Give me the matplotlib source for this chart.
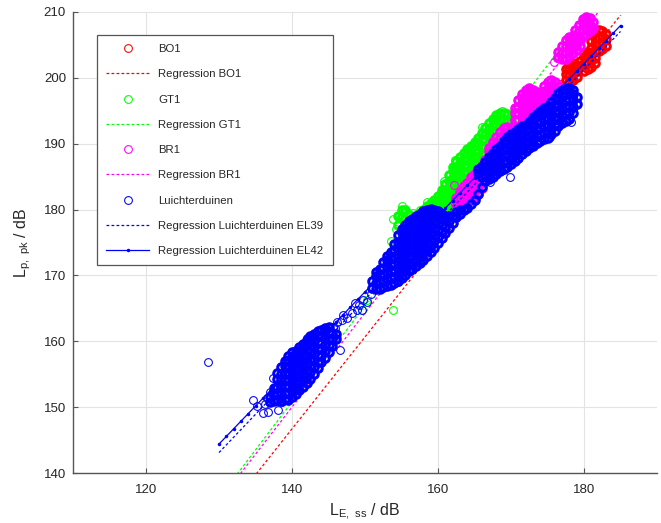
import matplotlib
matplotlib.use("Agg")
import matplotlib.pyplot as plt
import numpy as np

# ---------------- data ----------------
# Point clouds as columns: (L_E,ss, [L_p,pk values])
bo1_cols = [
    (177.5, [199.6, 200.6, 201.4]),
    (178.0, [199.4, 200.4, 201.4, 202.1]),
    (178.5, [199.7, 200.7, 201.7, 202.3]),
    (179.0, [200.1, 201.1, 202.0]),
    (179.5, [201.6, 202.6]),
    (180.0, [201.1, 202.1, 203.1, 203.7]),
    (180.5, [201.3, 202.3, 203.3, 204.0]),
    (181.0, [201.7, 202.7, 203.6, 204.6, 205.6]),
    (181.5, [202.3, 203.0, 204.1, 205.1, 206.1, 206.9]),
    (182.0, [204.1, 205.1, 206.1, 207.2]),
    (182.5, [204.4, 205.4, 206.4, 207.1]),
    (183.0, [204.9, 205.9, 206.7]),
]
bo1_extra_x = [174.0, 173.6, 176.9]
bo1_extra_y = [195.3, 194.5, 199.0]

gt1_cols = [
    (154.5, [177.6, 179.0]),
    (155.0, [176.4, 178.8, 180.0]),
    (155.5, [177.2, 178.6, 180.0]),
    (156.0, [176.8, 178.0, 179.2]),
    (156.5, [176.0, 177.2, 178.5]),
    (157.0, [176.3, 177.6, 179.0]),
    (157.5, [176.5, 177.8, 179.5]),
    (158.0, [176.8, 178.0, 179.2, 180.0]),
    (158.5, [177.0, 178.3, 179.5, 180.5]),
    (159.0, [177.3, 178.5, 179.8, 181.0]),
    (159.5, [177.6, 178.7, 179.8, 180.7, 181.5]),
    (160.0, [178.0, 179.0, 180.0, 181.0, 182.0]),
    (160.5, [178.4, 179.4, 180.4, 181.4, 182.4, 183.0]),
    (161.0, [178.8, 179.8, 180.8, 181.8, 182.8, 183.9]),
    (161.5, [179.3, 180.3, 181.3, 182.3, 183.3, 184.3, 185.2]),
    (162.0, [179.8, 180.8, 181.8, 182.8, 183.8, 184.8, 185.8, 186.5]),
    (162.5, [180.3, 181.3, 182.3, 183.3, 184.3, 185.3, 186.3, 187.3]),
    (163.0, [181.0, 182.0, 183.0, 184.0, 185.0, 186.0, 187.0, 188.0]),
    (163.5, [181.7, 182.7, 183.7, 184.7, 185.7, 186.7, 187.7, 188.6]),
    (164.0, [182.5, 183.5, 184.5, 185.5, 186.5, 187.5, 188.5, 189.2]),
    (164.5, [183.3, 184.3, 185.3, 186.3, 187.3, 188.3, 189.3, 189.7]),
    (165.0, [184.0, 185.0, 186.0, 187.0, 188.0, 189.0, 190.0, 190.3]),
    (165.5, [184.8, 185.8, 186.8, 187.8, 188.8, 189.8, 190.9]),
    (166.0, [185.6, 186.6, 187.6, 188.6, 189.6, 190.6, 191.6]),
    (166.5, [186.5, 187.5, 188.5, 189.5, 190.5, 191.5, 192.4]),
    (167.0, [187.3, 188.3, 189.3, 190.3, 191.3, 192.3, 193.1]),
    (167.5, [188.0, 189.0, 190.0, 191.0, 192.0, 193.0, 193.7]),
    (168.0, [188.8, 189.8, 190.8, 191.8, 192.8, 193.8, 194.3]),
    (168.5, [189.7, 190.7, 191.7, 192.7, 193.7, 194.6]),
    (169.0, [190.6, 191.6, 192.6, 193.6, 194.6]),
    (169.5, [191.5, 192.5, 193.5, 194.5]),
    (170.0, [192.4, 193.4]),
]
gt1_extra_x = [162.3, 164.4, 156.6, 157.5, 153.8, 154.1, 149.6, 150.3, 160.8, 158.5,
               166.0, 168.7, 154.0, 153.6, 154.2, 153.9, 155.0]
gt1_extra_y = [187.5, 189.4, 179.5, 180.0, 164.8, 172.8, 164.8, 166.3, 184.3, 181.2,
               192.5, 195.0, 174.0, 175.3, 177.0, 178.6, 180.6]

br1_cols = [
    (162.5, [180.8, 181.8]),
    (163.0, [180.6, 181.6, 182.6]),
    (163.5, [180.8, 181.8, 182.8, 183.6]),
    (164.0, [181.0, 182.0, 183.0, 184.0]),
    (164.5, [181.4, 182.4, 183.4, 184.4, 185.0]),
    (165.0, [181.8, 182.8, 183.8, 184.8, 185.4]),
    (165.5, [182.3, 183.3, 184.3, 185.3, 185.9]),
    (166.0, [183.2, 184.2, 185.2, 186.2]),
    (166.5, [185.6, 186.6, 187.6]),
    (167.0, [185.8, 186.8, 187.8, 188.8, 189.3]),
    (167.5, [186.3, 187.3, 188.3, 189.3, 190.2]),
    (168.0, [187.0, 188.0, 189.0, 190.0, 191.0]),
    (168.5, [187.8, 188.8, 189.8, 190.8, 191.8]),
    (169.0, [188.6, 189.6, 190.6, 191.6, 192.4]),
    (169.5, [189.5, 190.5, 191.5, 192.5]),
    (170.0, [190.4, 191.4, 192.3]),
    (170.5, [192.6, 193.6, 194.6, 195.4]),
    (171.0, [192.6, 193.6, 194.6, 195.6, 196.6]),
    (171.5, [193.0, 194.0, 195.0, 196.0, 197.0, 197.5]),
    (172.0, [193.5, 194.5, 195.5, 196.5, 197.5, 198.1]),
    (172.5, [194.0, 195.0, 196.0, 197.0, 198.0, 198.4]),
    (173.0, [194.6, 195.6, 196.6, 197.6, 198.2]),
    (173.5, [195.2, 196.2, 197.2, 197.8]),
    (174.0, [195.6, 196.6, 197.4]),
    (174.5, [196.0, 197.0, 198.0, 198.7]),
    (175.0, [196.3, 197.3, 198.3, 199.3]),
    (175.5, [196.8, 197.8, 198.8, 199.6]),
    (176.0, [197.3, 198.3, 199.3]),
    (176.5, [197.9, 198.7, 203.1, 203.9]),
    (177.0, [202.8, 203.8, 204.8]),
    (177.5, [202.9, 203.9, 204.9, 205.7]),
    (178.0, [203.3, 204.3, 205.3, 206.2]),
    (178.5, [203.8, 204.8, 205.8, 206.4]),
    (178.8, [206.3, 207.3]),
    (179.0, [204.3, 205.3, 206.2]),
    (179.3, [206.1, 207.1, 208.1]),
    (179.5, [204.9, 205.7]),
    (179.8, [206.3, 207.3, 208.3, 209.0]),
    (180.3, [206.6, 207.6, 208.6, 209.2]),
    (180.8, [207.1, 208.1, 209.1]),
    (181.2, [207.6, 208.5]),
]
br1_extra_x = [176.3, 175.9, 162.2]
br1_extra_y = [203.0, 202.4, 183.8]

lu_cols = [
    # lowest cloud
    (137.0, [150.8, 151.5]),
    (137.5, [150.9, 151.9, 152.9]),
    (138.0, [151.1, 152.1, 153.1, 154.2, 155.2]),
    (138.5, [151.0, 152.0, 153.0, 154.1, 155.1, 156.1]),
    (139.0, [151.2, 152.2, 153.2, 154.2, 155.2, 156.2, 157.0]),
    (139.5, [151.1, 152.1, 153.1, 154.1, 155.1, 156.1, 157.1, 157.7]),
    (140.0, [151.5, 152.5, 153.5, 154.5, 155.5, 156.5, 157.5, 158.3]),
    (140.5, [152.0, 153.0, 154.0, 155.0, 156.0, 157.0, 158.0, 158.6]),
    (141.0, [152.6, 153.6, 154.6, 155.6, 156.6, 157.6, 158.6, 159.1]),
    (141.5, [153.1, 154.1, 155.1, 156.1, 157.1, 158.1, 159.1, 159.6]),
    (142.0, [153.7, 154.7, 155.7, 156.7, 157.7, 158.7, 159.7, 160.2]),
    (142.5, [154.3, 155.3, 156.3, 157.3, 158.3, 159.3, 160.3, 160.8]),
    (143.0, [155.1, 156.1, 157.1, 158.1, 159.1, 160.1, 161.1]),
    (143.5, [155.9, 156.9, 157.9, 158.9, 159.9, 160.9, 161.5]),
    (144.0, [156.8, 157.8, 158.8, 159.8, 160.8, 161.7]),
    (144.5, [157.5, 158.5, 159.5, 160.5, 161.5, 162.0]),
    (145.0, [158.4, 159.4, 160.4, 161.4, 162.1]),
    (145.5, [159.3, 160.3, 161.3]),
    (146.0, [160.4, 161.1]),
    # middle cloud
    (151.0, [168.1, 169.2]),
    (151.5, [167.9, 168.9, 169.9, 170.5]),
    (152.0, [168.0, 169.0, 170.0, 171.0]),
    (152.5, [168.2, 169.2, 170.2, 171.2, 172.1]),
    (153.0, [168.4, 169.4, 170.4, 171.4, 172.4, 173.0]),
    (153.5, [168.6, 169.6, 170.6, 171.6, 172.6, 173.6]),
    (154.0, [168.8, 169.8, 170.8, 171.8, 172.8, 173.8, 174.8]),
    (154.5, [169.1, 170.1, 171.1, 172.1, 173.1, 174.1, 175.1, 176.1]),
    (155.0, [169.6, 170.6, 171.6, 172.6, 173.6, 174.6, 175.6, 176.6, 177.0]),
    (155.5, [170.1, 171.1, 172.1, 173.1, 174.1, 175.1, 176.1, 177.1, 177.6]),
    (156.0, [170.6, 171.6, 172.6, 173.6, 174.6, 175.6, 176.6, 177.6, 178.2]),
    (156.5, [171.0, 172.0, 173.0, 174.0, 175.0, 176.0, 177.0, 178.0, 178.6]),
    (157.0, [171.4, 172.4, 173.4, 174.4, 175.4, 176.4, 177.4, 178.4, 179.0]),
    (157.5, [171.9, 172.9, 173.9, 174.9, 175.9, 176.9, 177.9, 178.9, 179.4]),
    (158.0, [172.4, 173.4, 174.4, 175.4, 176.4, 177.4, 178.4, 179.4, 179.8]),
    (158.5, [173.0, 174.0, 175.0, 176.0, 177.0, 178.0, 179.0, 180.0]),
    (159.0, [173.6, 174.6, 175.6, 176.6, 177.6, 178.6, 179.6, 180.1]),
    (159.5, [174.2, 175.2, 176.2, 177.2, 178.2, 179.2, 180.0]),
    (160.0, [174.9, 175.9, 176.9, 177.9, 178.9, 179.8]),
    (160.5, [175.7, 176.7, 177.7, 178.7, 179.4]),
    (161.0, [176.4, 177.4, 178.4, 178.9]),
    (161.5, [177.2, 178.2, 179.0]),
    (162.0, [178.0, 179.0]),
    (162.5, [178.8, 179.6]),
    (163.0, [179.4, 180.0]),
    (163.5, [179.9]),
    (164.0, [180.3]),
    (164.5, [180.8]),
    (165.0, [181.5]),
    (165.5, [182.4, 185.5, 186.2]),
    (166.0, [183.4, 185.0, 186.0, 186.6]),
    # upper cloud
    (166.5, [184.3, 185.3, 186.3, 187.2]),
    (167.0, [184.6, 185.6, 186.6, 187.6, 188.0]),
    (167.5, [185.0, 186.0, 187.0, 188.0, 188.6]),
    (168.0, [185.4, 186.4, 187.4, 188.4, 189.2]),
    (168.5, [185.8, 186.8, 187.8, 188.8, 189.7]),
    (169.0, [186.1, 187.1, 188.1, 189.1, 190.1, 190.4]),
    (169.5, [186.4, 187.4, 188.4, 189.4, 190.4, 191.0]),
    (170.0, [186.9, 187.9, 188.9, 189.9, 190.9, 191.4]),
    (170.5, [187.4, 188.4, 189.4, 190.4, 191.4, 191.8]),
    (171.0, [187.9, 188.9, 189.9, 190.9, 191.9, 192.2]),
    (171.5, [188.4, 189.4, 190.4, 191.4, 192.4, 192.7]),
    (172.0, [188.9, 189.9, 190.9, 191.9, 192.9]),
    (172.5, [189.3, 190.3, 191.3, 192.3, 193.3]),
    (173.0, [189.7, 190.7, 191.7, 192.7, 193.7, 194.0]),
    (173.5, [190.1, 191.1, 192.1, 193.1, 194.1, 194.5]),
    (174.0, [190.4, 191.4, 192.4, 193.4, 194.4, 195.0]),
    (174.5, [190.7, 191.7, 192.7, 193.7, 194.7, 195.4]),
    (175.0, [190.9, 191.9, 192.9, 193.9, 194.9, 195.8]),
    (175.5, [191.4, 192.4, 193.4, 194.4, 195.4, 196.4]),
    (176.0, [192.0, 193.0, 194.0, 195.0, 196.0, 197.0]),
    (176.5, [192.7, 193.7, 194.7, 195.7, 196.7, 197.7]),
    (177.0, [193.2, 194.2, 195.2, 196.2, 197.2, 198.2]),
    (177.5, [193.5, 194.5, 195.5, 196.5, 197.5, 198.3]),
    (178.0, [193.8, 194.8, 195.8, 196.8, 197.8, 198.4]),
    (178.5, [194.6, 195.6, 196.6, 197.6, 198.2]),
    (179.0, [196.1, 197.1]),
]
lu_extra_x = [128.5, 134.7, 135.2, 136.0, 136.7, 138.1, 138.6, 136.6, 137.4, 137.7,
              142.0, 142.7, 139.0, 136.3, 137.0, 145.6, 146.2, 147.5, 148.2, 148.6,
              148.9, 149.6, 149.7, 150.3, 151.6, 146.6, 145.9, 147.0, 150.8, 153.4,
              154.5, 146.8, 149.2, 169.9, 175.3, 167.1, 172.8, 178.2]
lu_extra_y = [156.9, 151.1, 150.1, 149.1, 149.3, 149.6, 150.8, 151.4, 154.5, 152.9,
              160.5, 160.8, 156.7, 150.5, 152.3, 162.2, 163.0, 163.6, 164.3, 165.8,
              164.8, 164.8, 166.3, 166.0, 168.1, 158.7, 162.0, 164.0, 167.2, 173.1,
              169.0, 163.3, 165.5, 185.0, 191.0, 184.2, 189.6, 193.3]

# Regression lines: slope, intercept, x-range
reg_bo1 = (1.396, -48.74, 130.0, 185.3)
reg_gt1 = (1.460, -53.60, 130.0, 185.3)
reg_br1 = (1.430, -50.20, 130.0, 185.3)
reg_el39 = (1.1627, -8.05, 130.0, 185.3)
reg_el42 = (1.1555, -5.82, 130.0, 185.3)

labels = ["BO1", "Regression BO1", "GT1", "Regression GT1", "BR1", "Regression BR1",
          "Luichterduinen", "Regression Luichterduinen EL39", "Regression Luichterduinen EL42"]
x_ticks = [120, 140, 160, 180]
y_ticks = [140, 150, 160, 170, 180, 190, 200, 210]


def flatten(cols):
    xs, ys = [], []
    for x, yl in cols:
        for y in yl:
            xs.append(x)
            ys.append(y)
    return np.array(xs), np.array(ys)


def reg_line(p, step=1.0):
    a, b, x0, x1 = p
    xx = np.arange(x0, x1 + 1e-9, step)
    return xx, a * xx + b


plt.rcParams['font.family'] = ['Liberation Sans', 'DejaVu Sans']
plt.rcParams['mathtext.fontset'] = 'custom'
plt.rcParams['mathtext.rm'] = 'Liberation Sans'

fig = plt.figure(figsize=(6.61, 5.23), dpi=100)
ax = fig.add_axes([73 / 661, 50 / 523, 584 / 661, 461 / 523])

ms = 5.6
mew = 0.75
cloud_ms = 5.4
cloud_mew = 2.2
dot = (0, (2.2, 1.8))

RED, GREEN, MAG, BLUE = '#ff0000', '#00ff00', '#ff00ff', '#0000ff'


def scatter_series(cols, ex, ey, color, label):
    cx, cy = flatten(cols)
    ax.plot(cx, cy, 'o', ms=cloud_ms, mfc='none', mec=color, mew=cloud_mew, label='_nolegend_')
    ax.plot(ex, ey, 'o', ms=ms, mfc='none', mec=color, mew=mew, label=label)


scatter_series(bo1_cols, bo1_extra_x, bo1_extra_y, RED, labels[0])
lx, ly = reg_line(reg_bo1)
ax.plot(lx, ly, color=RED, ls=dot, lw=0.9, label=labels[1])

scatter_series(gt1_cols, gt1_extra_x, gt1_extra_y, GREEN, labels[2])
lx, ly = reg_line(reg_gt1)
ax.plot(lx, ly, color=GREEN, ls=dot, lw=0.9, label=labels[3])

scatter_series(br1_cols, br1_extra_x, br1_extra_y, MAG, labels[4])
lx, ly = reg_line(reg_br1)
ax.plot(lx, ly, color=MAG, ls=dot, lw=0.9, label=labels[5])

scatter_series(lu_cols, lu_extra_x, lu_extra_y, BLUE, labels[6])
lx, ly = reg_line(reg_el39)
ax.plot(lx, ly, color=BLUE, ls=dot, lw=0.9, label=labels[7])
lx, ly = reg_line(reg_el42)
ax.plot(lx, ly, color=BLUE, ls='-', lw=0.9, marker='.', ms=3, label=labels[8])

ax.set_xlim(110, 190)
ax.set_ylim(140, 210)
ax.set_xticks(x_ticks)
ax.set_yticks(y_ticks)
ax.grid(True, color='#e3e3e3', lw=0.8)
ax.set_axisbelow(True)
for s in ['top', 'right']:
    ax.spines[s].set_visible(False)
for s in ['left', 'bottom']:
    ax.spines[s].set_color('#555555')
    ax.spines[s].set_linewidth(1.0)
ax.tick_params(direction='in', length=3.5, width=0.8, color='#555555',
               labelsize=9.5, labelcolor='#262626', pad=5)
ax.tick_params(axis='x', pad=8)

ax.set_xlabel(r'$\mathregular{L_{E,\ ss}}$ / dB', fontsize=11.5, color='#262626', labelpad=4)
ax.set_ylabel(r'$\mathregular{L_{p,\ pk}}$ / dB', fontsize=11.5, color='#262626', labelpad=8)

leg = ax.legend(loc='upper left', bbox_to_anchor=(24 / 584, (473 - 35) / 461),
                borderaxespad=0, fontsize=8.2, labelspacing=1.34, handlelength=3.8,
                handletextpad=0.8, borderpad=0.8, frameon=True, fancybox=False,
                framealpha=1, edgecolor='#555555', numpoints=1)
leg.get_frame().set_linewidth(0.9)
for t in leg.get_texts():
    t.set_color('#262626')

fig.savefig('out.png', dpi=100)
